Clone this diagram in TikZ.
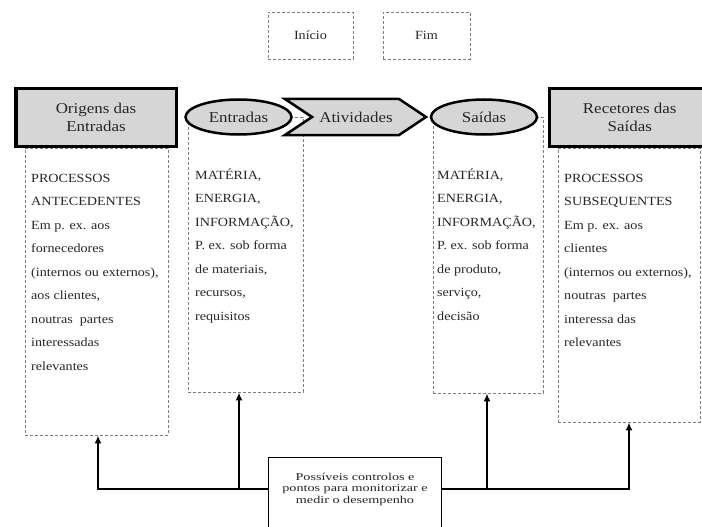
\documentclass[tikz,border=0pt]{standalone}
\usepackage{fontspec}
\setmainfont{Liberation Serif}[FakeStretch=1.13]
\newfontfamily\ctlfont{Liberation Serif}[FakeStretch=1.35]
\usepackage{tikz}
\usetikzlibrary{arrows.meta,shapes.geometric}
\definecolor{boxgray}{RGB}{214,214,214}
\definecolor{dashgray}{RGB}{125,125,125}
\definecolor{txtgray}{RGB}{35,40,35}

\begin{document}
\begin{tikzpicture}[x=1pt,y=-1pt,
    dbox/.style={draw=dashgray,line width=0.9pt,dash pattern=on 3pt off 2pt,
        inner sep=0pt,text=txtgray,font=\fontsize{12.5}{14}\selectfont},
    mainbox/.style={draw,line width=3.5pt,fill=boxgray,align=center,
        text=txtgray,font=\fontsize{15}{18}\selectfont},
    oval/.style={ellipse,draw,line width=2.5pt,fill=boxgray,inner sep=0pt,
        minimum width=106,minimum height=35,text=txtgray,
        font=\fontsize{15}{18}\selectfont},
    dtext/.style={align=left,inner sep=0pt,text=txtgray,anchor=north west,
        font=\fontsize{12.5}{23.5}\selectfont},
    ctlarrow/.style={line width=2pt,-{Latex[length=8pt,width=7pt]}}]
\useasboundingbox (0,0) rectangle (702,527);

% start / end
\node[dbox,minimum width=85,minimum height=47] (inicio) at (310.5,35.5) {Início};
\node[dbox,minimum width=87,minimum height=47] (fim) at (426.5,35.5) {Fim};

% dashed columns
\node[dbox,minimum width=143,minimum height=287] (origbox) at (96.5,291.5) {};
\node[dbox,minimum width=115,minimum height=275] (entbox) at (245.5,254.5) {};
\node[dbox,minimum width=110,minimum height=276] (saibox) at (488,255) {};
\node[dbox,minimum width=142,minimum height=274] (recbox) at (629,285) {};

% top row
\node[mainbox,minimum width=160.5,minimum height=57.5] (origens) at (96,117.5)
    {Origens das\\Entradas};
\node[mainbox,minimum width=160.5,minimum height=57.5] (recetores) at (629.75,117.5)
    {Recetores das\\Saídas};
\draw[line width=2.5pt,line join=miter,fill=boxgray]
    (285,99) -- (399,99) -- (426,117) -- (399,135) -- (285,135) -- (312,117) -- cycle;
\node[text=txtgray,font=\fontsize{15}{18}\selectfont] (ativ) at (356,117) {Atividades};
\node[oval] (entradas) at (238.5,117) {Entradas};
\node[oval] (saidas) at (484,117) {Saídas};

% column texts
\node[dtext] (origtxt) at (31,165.5)
    {\strut PROCESSOS\\ANTECEDENTES\\Em p. ex. aos\\fornecedores\\(internos ou externos),\\aos clientes,\\noutras \ partes\\interessadas\\relevantes};
\node[dtext] (enttxt) at (195,162.5)
    {\strut MATÉRIA,\\ENERGIA,\\INFORMAÇÃO,\\P. ex. sob forma\\de materiais,\\recursos,\\requisitos};
\node[dtext] (saitxt) at (437,162.5)
    {\strut MATÉRIA,\\ENERGIA,\\INFORMAÇÃO,\\P. ex. sob forma\\de produto,\\serviço,\\decisão};
\node[dtext] (rectxt) at (564,165.5)
    {\strut PROCESSOS\\SUBSEQUENTES\\Em p. ex. aos\\clientes\\(internos ou externos),\\noutras \ partes\\interessa das\\relevantes};

% controls
\node[align=center,inner sep=0pt,minimum width=172.8,minimum height=62,text=txtgray,
    font=\ctlfont\fontsize{10.5}{11.5}\selectfont] (ctrl) at (355,489)
    {Possíveis controlos e\\pontos para monitorizar e\\medir o desempenho};
\draw[line width=1.2pt] (ctrl.north west) rectangle ([yshift=-15pt]ctrl.south east);
\coordinate (entfoot) at ([xshift=-6.5pt]entbox.south);
\coordinate (saifoot) at ([xshift=-1pt]saibox.south);
\draw[ctlarrow] (ctrl.west) -| ([xshift=1.5pt]origbox.south);
\draw[ctlarrow] (entfoot |- ctrl.west) -- (entfoot);
\draw[ctlarrow] (ctrl.east) -| (recbox.south);
\draw[ctlarrow] (saifoot |- ctrl.east) -- (saifoot);
\end{tikzpicture}
\end{document}
